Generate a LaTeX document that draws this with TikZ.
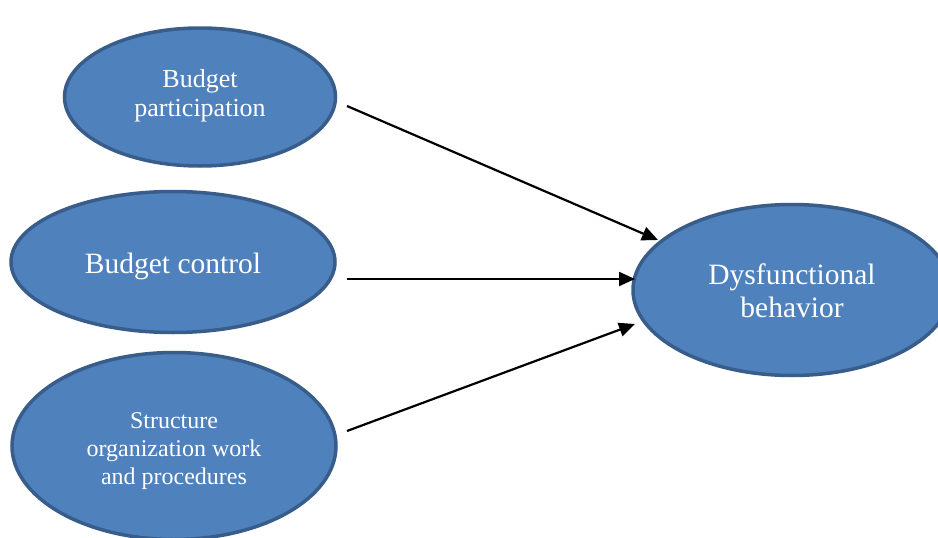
\documentclass[tikz,border=0pt]{standalone}
\usepackage{fontspec}
\setmainfont{Liberation Serif}
\usetikzlibrary{shapes.geometric,arrows.meta}
\definecolor{ellfill}{HTML}{4F81BD}
\definecolor{elldraw}{HTML}{385D8A}
\begin{document}
\begin{tikzpicture}[x=1pt,y=-1pt,
  oval/.style={ellipse, draw=elldraw, fill=ellfill, line width=3.5pt, inner sep=0pt},
  lbl/.style={text=white, align=center, inner sep=0pt},
  conn/.style={line width=2.2pt, -{Triangle[length=16pt,width=14pt]}}]
\useasboundingbox (0,0) rectangle (938,538);
\node[oval, minimum width=271pt, minimum height=138pt] (bp) at (200,97) {};
\node[oval, minimum width=324pt, minimum height=141pt] (bc) at (173,262) {};
\node[oval, minimum width=324pt, minimum height=187pt] (so) at (174,446) {};
\node[oval, minimum width=318pt, minimum height=171pt] (dys) at (792,290) {};
\node[lbl, font=\fontsize{26}{29}\selectfont] (bpT) at ([yshift=1pt]bp.center) {Budget\\participation};
\node[lbl, font=\fontsize{29.5}{33}\selectfont] (bcT) at ([yshift=-4pt]bc.center) {Budget control};
\node[lbl, font=\fontsize{24}{28}\selectfont] (soT) at ([yshift=-5pt]so.center) {Structure\\organization work\\and procedures};
\node[lbl, font=\fontsize{29.5}{33}\selectfont] (dysT) at ([yshift=-1pt]dys.center) {Dysfunctional\\behavior};
\coordinate (s1) at (347,106);
\coordinate (s2) at (347,279);
\coordinate (s3) at (347,431);
\coordinate (e1) at (658,240);
\coordinate (e2) at (635,279);
\coordinate (e3) at (635,324);
\draw[conn] (s1) -- (e1);
\draw[conn] (s2) -- (e2);
\draw[conn] (s3) -- (e3);
\end{tikzpicture}
\end{document}
